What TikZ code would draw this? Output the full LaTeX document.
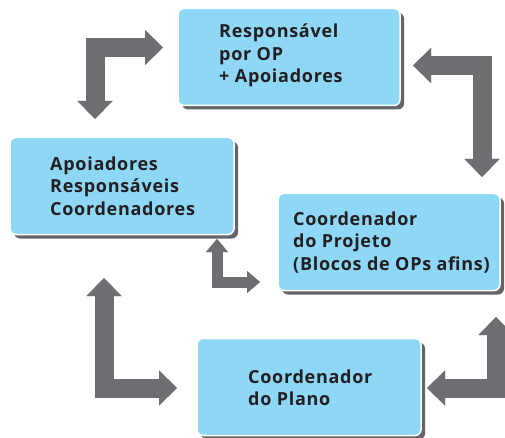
\documentclass[tikz,border=0pt]{standalone}
\usepackage{fontspec}
\setmainfont[LetterSpace=4]{Open Sans}
\usetikzlibrary{arrows.meta,shadows}
\definecolor{boxblue}{RGB}{143,215,246}
\definecolor{boxshadow}{RGB}{100,101,104}
\definecolor{arrgray}{RGB}{109,110,114}
\definecolor{arrshadow}{RGB}{150,151,155}
\definecolor{txt}{RGB}{35,31,32}
\tikzset{
  box/.style={rounded corners=6pt, fill=boxblue, draw=white, line width=1.5pt,
    minimum width=#1, minimum height=97pt, inner sep=0pt,
    drop shadow={shadow xshift=4pt, shadow yshift=-4pt, fill=boxshadow, opacity=1}},
  lbl/.style={anchor=west, align=left, inner sep=0pt, text=txt,
    font=\bfseries\fontsize{18}{22.5}\selectfont},
  bigarr/.style={line width=19pt, line join=miter,
    {Triangle[length=18pt,width=35pt,line width=0pt]}-{Triangle[length=18pt,width=35pt,line width=0pt]}},
  smallarr/.style={line width=11pt, line join=miter,
    {Triangle[length=13pt,width=22pt,line width=0pt]}-{Triangle[length=13pt,width=22pt,line width=0pt]}},
  ashadow/.style={draw=arrshadow, shift={(2.5,2.5)}},
  afront/.style={draw=arrgray}
}
\begin{document}
\begin{tikzpicture}[x=1pt,y=-1pt]
\useasboundingbox (0,0) rectangle (505,438);
% boxes
\node[box=222pt] (b1) at (289,57) {};
\node[box=224pt] (b2) at (122,186) {};
\node[box=222pt] (b3) at (389,242) {};
\node[box=224pt] (b4) at (309,387) {};
\node[lbl] (t1) at (219,55.5) {Responsável\\por OP\\+ Apoiadores};
\node[lbl] (t2) at (50,186) {Apoiadores\\Responsáveis\\Coordenadores};
\node[lbl] (t3) at (293,242.5) {Coordenador\\do Projeto\\(Blocos de OPs afins)};
\node[lbl] (t4) at (248,387.5) {Coordenador\\do Plano};
% arrow coordinates
\coordinate (a1s) at (95,119); \coordinate (a1c) at (95,47.5); \coordinate (a1e) at (163,47.5);
\coordinate (a2s) at (413,65.5); \coordinate (a2c) at (482,65.5); \coordinate (a2e) at (482,177);
\coordinate (a3s) at (217,239); \coordinate (a3c) at (217,282); \coordinate (a3e) at (260,282);
\coordinate (a4s) at (104,278); \coordinate (a4c) at (104,388); \coordinate (a4e) at (177,388);
\coordinate (a5s) at (496,317); \coordinate (a5c) at (496,388); \coordinate (a5e) at (427,388);
% shadows
\draw[bigarr,ashadow] (a1s) -- (a1c) -- (a1e);
\draw[bigarr,ashadow] (a2s) -- (a2c) -- (a2e);
\draw[smallarr,ashadow] (a3s) -- (a3c) -- (a3e);
\draw[bigarr,ashadow] (a4s) -- (a4c) -- (a4e);
\draw[bigarr,ashadow] (a5s) -- (a5c) -- (a5e);
% arrows
\draw[bigarr,afront] (a1s) -- (a1c) -- (a1e);
\draw[bigarr,afront] (a2s) -- (a2c) -- (a2e);
\draw[smallarr,afront] (a3s) -- (a3c) -- (a3e);
\draw[bigarr,afront] (a4s) -- (a4c) -- (a4e);
\draw[bigarr,afront] (a5s) -- (a5c) -- (a5e);
\end{tikzpicture}
\end{document}
